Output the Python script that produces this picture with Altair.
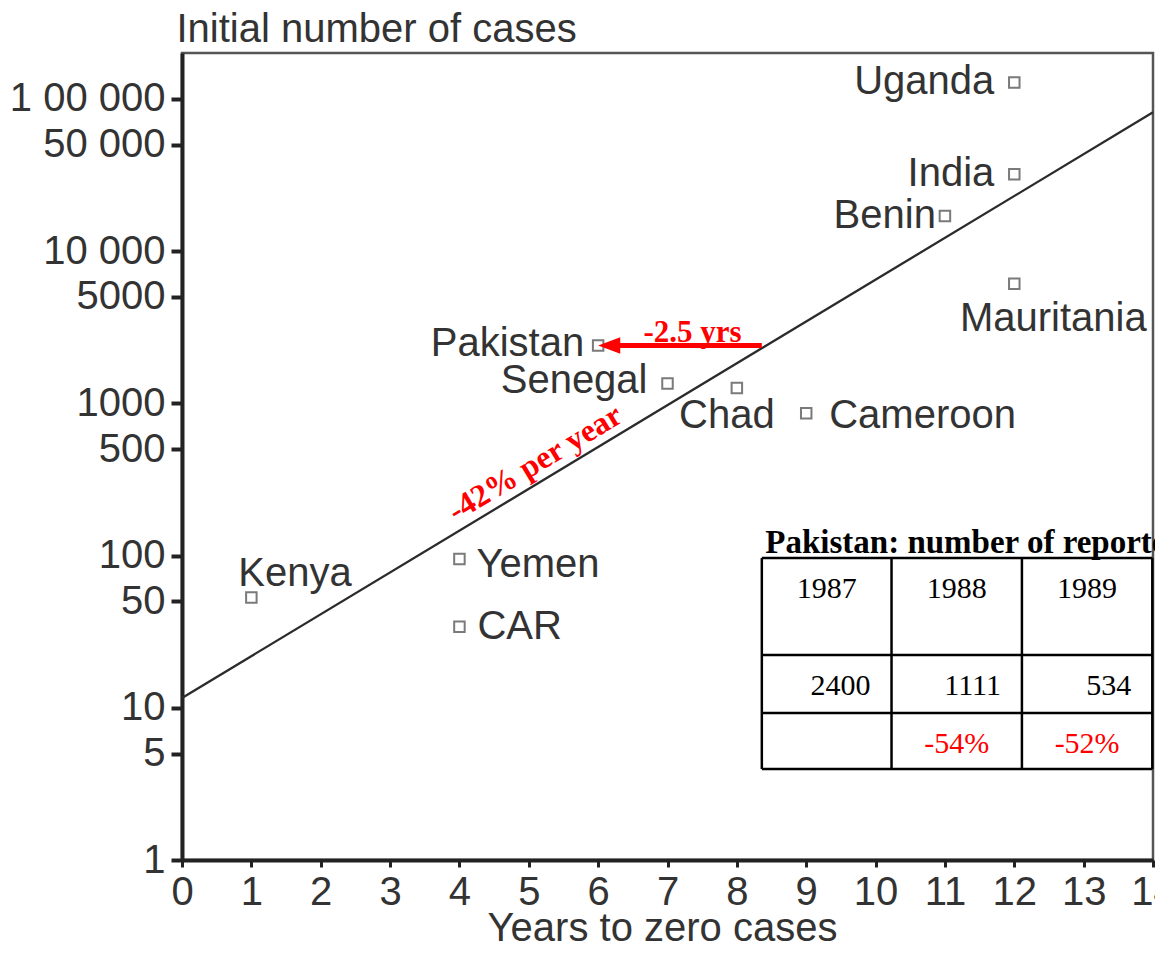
import altair as alt
import pandas as pd

# ---------------- data ----------------
countries = ["Kenya", "Yemen", "CAR", "Pakistan", "Senegal", "Chad",
             "Cameroon", "Benin", "India", "Uganda", "Mauritania"]
years_to_zero = [1, 4, 4, 6, 7, 8, 9, 11, 12, 12, 12]
initial_cases = [53, 95, 34, 2400, 1350, 1260, 860, 17000, 32000, 128000, 6100]

fit_years = [0, 14]
fit_cases = [11.6, 81500]

y_tick_values = [1, 5, 10, 50, 100, 500, 1000, 5000, 10000, 50000, 100000]
y_tick_labels = ["1", "5", "10", "50", "100", "500", "1000", "5000",
                 "10 000", "50 000", "1 00 000"]
x_tick_values = list(range(0, 15))

table_title = "Pakistan: number of reported cases"
table_years = ["1987", "1988", "1989"]
table_cases = ["2400", "1111", "534"]
table_change = ["", "-54%", "-52%"]

arrow_from_year = 8.36
arrow_cases = 2400
arrow_label = "-2.5 yrs"
slope_label = "-42% per year"

# ---------------- layout (annotation placement, in data units) ----------------
table_col_edges = [8.36, 10.23, 12.11, 13.99]
table_row_edges = [96.3, 22.2, 9.24, 3.96]
table_title_at = (8.41, 104)
table_text_rows = [52.6, 12.13, 5.05]
arrow_head_year = 6.16
arrow_label_year = 7.36
slope_label_at = (5.09, 405)

# label offsets in px: dx, dy, align
label_layout = {
    "Kenya": (-13, -12, "left"),
    "Yemen": (17, 18, "left"),
    "CAR": (18, 12, "left"),
    "Pakistan": (-14, 11, "right"),
    "Senegal": (-20, 10, "right"),
    "Chad": (-10, 40, "center"),
    "Cameroon": (23, 15, "left"),
    "Benin": (-9, 12, "right"),
    "India": (-20, 12, "right"),
    "Uganda": (-20, 11, "right"),
    "Mauritania": (39, 47, "center"),
}

SANS = "Liberation Sans"
SERIF = "Liberation Serif"
TXT = "#333333"
AX = "#222222"
RED = "#ff0000"

label_expr = " : ".join(
    f"datum.value == {v} ? '{l}'" for v, l in zip(y_tick_values, y_tick_labels)
) + " : ''"

xs = alt.Scale(domain=[0, 14], nice=False, zero=False)
ys = alt.Scale(type="log", domain=[1, 200000], nice=False)

x_axis = alt.Axis(
    values=x_tick_values, format="d", title="Years to zero cases",
    labelFont=SANS, labelFontSize=40, labelColor=TXT,
    titleFont=SANS, titleFontSize=40, titleFontWeight="normal", titleColor=TXT,
    titleX=480, titleY=80, titleAlign="center", titleBaseline="alphabetic",
    tickSize=7, tickWidth=3, tickColor=AX, domainColor=AX, domainWidth=4,
    labelPadding=5, grid=False, labelFlush=False, labelOverlap=False,
)
y_axis = alt.Axis(
    values=y_tick_values, labelExpr=label_expr, title="Initial number of cases",
    labelFont=SANS, labelFontSize=40, labelColor=TXT,
    titleFont=SANS, titleFontSize=40, titleFontWeight="normal", titleColor=TXT,
    titleAngle=0, titleAlign="left", titleBaseline="alphabetic",
    titleX=-6, titleY=-12,
    tickSize=11, tickWidth=4, tickColor=AX, domainColor=AX, domainWidth=4,
    labelPadding=6, grid=False, labelFlush=False, labelOverlap=False,
)

X = alt.X("x:Q", scale=xs, axis=x_axis)
Y = alt.Y("y:Q", scale=ys, axis=y_axis)

layers = []

# regression line
layers.append(
    alt.Chart(pd.DataFrame({"x": fit_years, "y": fit_cases}))
    .mark_line(color="#2b2b2b", strokeWidth=2.3)
    .encode(x=X, y=Y)
)

# points
pts = pd.DataFrame({"x": years_to_zero, "y": initial_cases, "name": countries})
layers.append(
    alt.Chart(pts)
    .mark_point(shape="square", filled=False, size=110, strokeWidth=2,
                color="#7a7a7a", opacity=1)
    .encode(x=X, y=Y)
)

# country labels
for name, xv, yv in zip(countries, years_to_zero, initial_cases):
    dx, dy, align = label_layout[name]
    layers.append(
        alt.Chart(pd.DataFrame({"x": [xv], "y": [yv], "t": [name]}))
        .mark_text(font=SANS, fontSize=40, color=TXT, align=align,
                   baseline="alphabetic", dx=dx, dy=dy)
        .encode(x=X, y=Y, text="t:N")
    )

# red arrow
layers.append(
    alt.Chart(pd.DataFrame({"x": [arrow_from_year], "x2": [arrow_head_year],
                            "y": [arrow_cases]}))
    .mark_rule(color=RED, strokeWidth=5)
    .encode(x=X, x2=alt.X2("x2:Q"), y=Y)
)
layers.append(
    alt.Chart(pd.DataFrame({"x": [arrow_head_year], "y": [arrow_cases]}))
    .mark_point(shape="M-1,0L1,-0.75L1,0.75Z", filled=True, size=484,
                color=RED, opacity=1, strokeWidth=0)
    .encode(x=X, y=Y)
)
layers.append(
    alt.Chart(pd.DataFrame({"x": [arrow_label_year], "y": [arrow_cases],
                            "t": [arrow_label]}))
    .mark_text(font=SERIF, fontSize=31, fontWeight="bold", color=RED,
               align="center", baseline="alphabetic", dy=-3)
    .encode(x=X, y=Y, text="t:N")
)
layers.append(
    alt.Chart(pd.DataFrame({"x": [slope_label_at[0]], "y": [slope_label_at[1]],
                            "t": [slope_label]}))
    .mark_text(font=SERIF, fontSize=32, fontWeight="bold", color=RED,
               align="center", baseline="middle", angle=329)
    .encode(x=X, y=Y, text="t:N")
)

# table
layers.append(
    alt.Chart(pd.DataFrame({"x": [table_title_at[0]], "y": [table_title_at[1]],
                            "t": [table_title]}))
    .mark_text(font=SERIF, fontSize=33, fontWeight="bold", color="black",
               align="left", baseline="alphabetic")
    .encode(x=X, y=Y, text="t:N")
)
hrules = pd.DataFrame({"x": [table_col_edges[0]] * len(table_row_edges),
                       "x2": [table_col_edges[-1]] * len(table_row_edges),
                       "y": table_row_edges})
layers.append(
    alt.Chart(hrules).mark_rule(color="black", strokeWidth=2.5)
    .encode(x=X, x2=alt.X2("x2:Q"), y=Y)
)
vrules = pd.DataFrame({"x": table_col_edges,
                       "y": [table_row_edges[0]] * len(table_col_edges),
                       "y2": [table_row_edges[-1]] * len(table_col_edges)})
layers.append(
    alt.Chart(vrules).mark_rule(color="black", strokeWidth=2.5)
    .encode(x=X, y=Y, y2=alt.Y2("y2:Q"))
)
centers = [(a + b) / 2 for a, b in zip(table_col_edges[:-1], table_col_edges[1:])]
rights = table_col_edges[1:]
layers.append(
    alt.Chart(pd.DataFrame({"x": centers, "y": [table_text_rows[0]] * 3,
                            "t": table_years}))
    .mark_text(font=SERIF, fontSize=30, color="black", align="center",
               baseline="alphabetic")
    .encode(x=X, y=Y, text="t:N")
)
layers.append(
    alt.Chart(pd.DataFrame({"x": rights, "y": [table_text_rows[1]] * 3,
                            "t": table_cases}))
    .mark_text(font=SERIF, fontSize=30, color="black", align="right",
               baseline="alphabetic", dx=-21)
    .encode(x=X, y=Y, text="t:N")
)
layers.append(
    alt.Chart(pd.DataFrame({"x": centers, "y": [table_text_rows[2]] * 3,
                            "t": table_change}))
    .mark_text(font=SERIF, fontSize=30, color=RED, align="center",
               baseline="alphabetic")
    .encode(x=X, y=Y, text="t:N")
)

chart = (
    alt.layer(*layers)
    .properties(
        width=971, height=807,
        padding={"left": 174, "top": 45, "right": 2, "bottom": 82},
        autosize=alt.AutoSizeParams(type="none"),
        background="white",
    )
    .configure_view(stroke="#555555", strokeWidth=2.5)
)

chart.save("out.html", embed_options={"renderer": "svg", "actions": False})
